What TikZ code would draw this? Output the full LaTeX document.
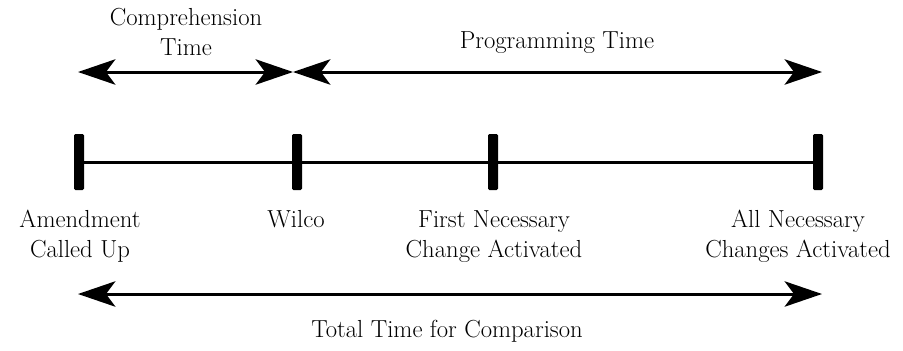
\documentclass[tikz,border=0pt]{standalone}
\usetikzlibrary{arrows.meta}
\begin{document}
\begin{tikzpicture}[x=0.75pt,y=-0.75pt,
  lbl/.style={font=\fontsize{18.5}{22.5}\selectfont, align=center, anchor=base, inner sep=0pt},
  tickmark/.style={fill=black, minimum width=7.5pt, minimum height=42pt, inner sep=0pt, rounded corners=1pt},
  tip/.tip={Stealth[length=28pt,width=19pt,inset=7pt]},
  span/.style={line width=2.25pt, tip-tip},
  axis/.style={line width=2.25pt}]
\useasboundingbox (0,0) rectangle (903,350);
% timeline
\node[tickmark] (t1) at (79,162) {};
\node[tickmark] (t2) at (297,162) {};
\node[tickmark] (t3) at (493,162) {};
\node[tickmark] (t4) at (818,162) {};
\draw[axis] (t1) -- (t2) -- (t3) -- (t4);
% arrow ends
\coordinate (c1) at (78,72);
\coordinate (c2) at (293,72);
\coordinate (c3) at (822,72);
\coordinate (b1) at (78,294);
\coordinate (b2) at (822,294);
\draw[span] (c1) -- (c2);
\draw[span] (c2) -- (c3);
\draw[span] (b1) -- (b2);
% labels (base anchor = baseline of the last line)
\node[lbl] (comp) at (186,55) {Comprehension\\Time};
\node[lbl] (prog) at (557,48) {Programming Time};
\node[lbl] (l1) at (80,257) {Amendment\\Called Up};
\node[lbl] (l2) at (296,227) {Wilco};
\node[lbl] (l3) at (494,257) {First Necessary\\Change Activated};
\node[lbl] (l4) at (798,257) {All Necessary\\Changes Activated};
\node[lbl] (tot) at (447,337) {Total Time for Comparison};
\end{tikzpicture}
\end{document}
